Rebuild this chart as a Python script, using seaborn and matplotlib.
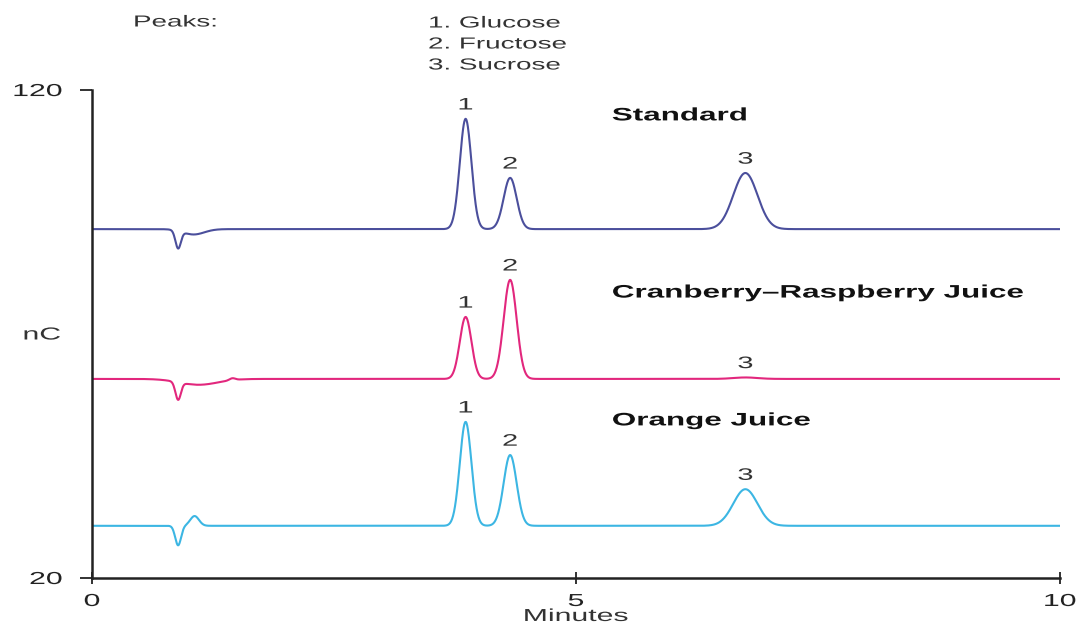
import numpy as np
import pandas as pd
import matplotlib.pyplot as plt
import seaborn as sns
from matplotlib.patheffects import AbstractPathEffect
from matplotlib.transforms import Affine2D

# peak table (minutes, nC above baseline, width sigma in minutes)
samples = ["Standard", "Cranberry\u2013Raspberry Juice", "Orange Juice"]
colors = ["#4b4f9c", "#e2277d", "#3cb6e3"]
baselines = [91.5, 60.8, 30.7]
peak_times = [[3.86, 4.32, 6.75], [3.86, 4.32, 6.75], [3.86, 4.32, 6.75]]
peak_heights = [[22.6, 10.5, 11.5], [12.7, 20.3, 0.3], [21.3, 14.5, 7.5]]
peak_widths = [[0.06, 0.067, 0.125], [0.06, 0.067, 0.125], [0.06, 0.067, 0.125]]
# injection disturbance near the void time
dist_times = [[0.89, 1.05], [0.89, 1.10, 1.45], [0.89, 1.06]]
dist_heights = [[-3.6, -1.1], [-3.6, -1.2, 0.4], [-4.0, 2.0]]
dist_widths = [[0.028, 0.11], [0.028, 0.2, 0.03], [0.03, 0.045]]
peak_names = ["1. Glucose", "2. Fructose", "3. Sucrose"]
label_y = [114.7, 78.4, 52.2]


class StretchX(AbstractPathEffect):
    """Draw text glyphs widened horizontally, like the scanned original."""

    def __init__(self, sx=1.74, anchor="left"):
        super().__init__()
        self.sx = sx
        self.anchor = anchor

    def draw_path(self, renderer, gc, tpath, affine, rgbFace=None):
        ext = tpath.get_extents()
        if self.anchor == "center":
            cx = (ext.x0 + ext.x1) / 2
        elif self.anchor == "right":
            cx = ext.x1
        else:
            cx = 0
        tr = Affine2D().translate(-cx, 0).scale(self.sx, 1).translate(cx, 0) + affine
        renderer.draw_path(gc, tpath, tr, rgbFace)


t = np.linspace(0, 10, 3001)
frames = []
for i, name in enumerate(samples):
    y = np.full_like(t, baselines[i])
    for rt, h, w in zip(peak_times[i] + dist_times[i], peak_heights[i] + dist_heights[i],
                        peak_widths[i] + dist_widths[i]):
        y += h * np.exp(-0.5 * ((t - rt) / w) ** 2)
    frames.append(pd.DataFrame({"Minutes": t, "nC": y, "sample": name}))
df = pd.concat(frames)

sns.set_style("white")
plt.rcParams["font.family"] = ["Liberation Sans", "DejaVu Sans"]

fig = plt.figure(figsize=(10.77, 6.24), dpi=100)
ax = fig.add_axes([0.0854, 0.0737, 0.8988, 0.782])
sns.lineplot(data=df, x="Minutes", y="nC", hue="sample", palette=colors,
             linewidth=1.5, legend=False, ax=ax)

left_fx = [StretchX(anchor="left")]
mid_fx = [StretchX(anchor="center")]
right_fx = [StretchX(anchor="right")]

for i, name in enumerate(samples):
    ax.text(5.37, label_y[i], name, fontsize=13, fontweight="bold", color="#111111",
            va="center", ha="left", path_effects=left_fx)
    for k, (rt, h) in enumerate(zip(peak_times[i], peak_heights[i])):
        ax.text(rt, baselines[i] + h + 1.3, str(k + 1), fontsize=12, color="#333333",
                ha="center", va="bottom", path_effects=mid_fx)

ax.set_xlim(0, 10)
ax.set_ylim(20, 120)
ax.set_xticks([0, 5, 10])
ax.set_yticks([20, 120])
ax.set_xticklabels(["0", "5", "10"])
ax.set_yticklabels(["20", "120"])
ax.tick_params(axis="x", bottom=True, direction="inout", length=9, width=1.3,
               labelsize=12.5, colors="#222222", pad=7)
ax.tick_params(axis="y", left=True, direction="out", length=9, width=1.3,
               labelsize=12.5, colors="#222222", pad=12.5)
for lbl in ax.get_xticklabels():
    lbl.set_path_effects(mid_fx)
for lbl in ax.get_yticklabels():
    lbl.set_path_effects(right_fx)
ax.set_xlabel("Minutes", fontsize=12.5, color="#333333", labelpad=0)
ax.xaxis.label.set_path_effects(mid_fx)
ax.set_ylabel("")
for s in ["top", "right"]:
    ax.spines[s].set_visible(False)
for s in ["left", "bottom"]:
    ax.spines[s].set_linewidth(1.8)
    ax.spines[s].set_color("#222222")

fig.text(42 / 1077, 1 - 335 / 624, "nC", fontsize=12.5, color="#333333",
         ha="center", va="center", path_effects=mid_fx)
fig.text(133 / 1077, 1 - 22 / 624, "Peaks:", fontsize=11.5, color="#333333",
         ha="left", va="center", path_effects=left_fx)
for k, nm in enumerate(peak_names):
    fig.text(428 / 1077, 1 - (23 + 21 * k) / 624, nm, fontsize=11.5, color="#333333",
             ha="left", va="center", path_effects=left_fx)

fig.savefig("out.png", dpi=100)
